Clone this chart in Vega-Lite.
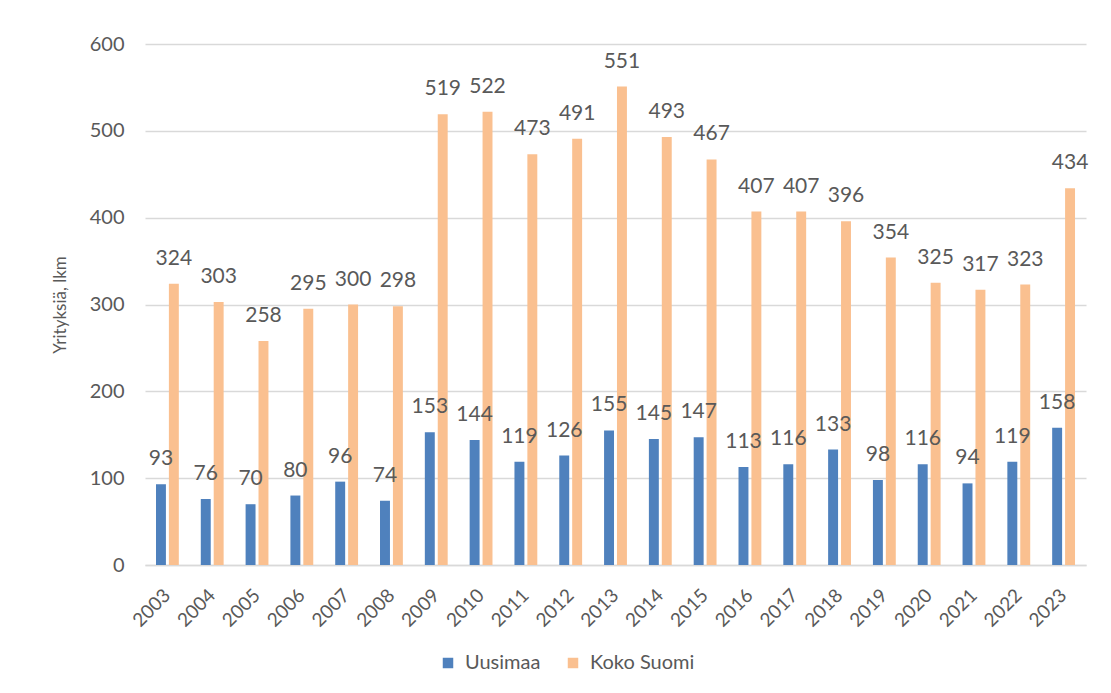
{
  "$schema": "https://vega.github.io/schema/vega-lite/v6.json",
  "width": 941,
  "height": 521,
  "autosize": {"type": "none"},
  "padding": {"left": 145, "top": 44, "right": 25, "bottom": 128},
  "background": "white",
  "config": {
    "font": "Lato",
    "view": {"stroke": null},
    "axis": {"labelColor": "#595959", "titleColor": "#595959", "labelFont": "Lato", "titleFont": "Lato"}
  },
  "data": {
    "values": [
      {"year": "2003", "series": "Uusimaa", "value": 93},
      {"year": "2004", "series": "Uusimaa", "value": 76},
      {"year": "2005", "series": "Uusimaa", "value": 70},
      {"year": "2006", "series": "Uusimaa", "value": 80},
      {"year": "2007", "series": "Uusimaa", "value": 96},
      {"year": "2008", "series": "Uusimaa", "value": 74},
      {"year": "2009", "series": "Uusimaa", "value": 153},
      {"year": "2010", "series": "Uusimaa", "value": 144},
      {"year": "2011", "series": "Uusimaa", "value": 119},
      {"year": "2012", "series": "Uusimaa", "value": 126},
      {"year": "2013", "series": "Uusimaa", "value": 155},
      {"year": "2014", "series": "Uusimaa", "value": 145},
      {"year": "2015", "series": "Uusimaa", "value": 147},
      {"year": "2016", "series": "Uusimaa", "value": 113},
      {"year": "2017", "series": "Uusimaa", "value": 116},
      {"year": "2018", "series": "Uusimaa", "value": 133},
      {"year": "2019", "series": "Uusimaa", "value": 98},
      {"year": "2020", "series": "Uusimaa", "value": 116},
      {"year": "2021", "series": "Uusimaa", "value": 94},
      {"year": "2022", "series": "Uusimaa", "value": 119},
      {"year": "2023", "series": "Uusimaa", "value": 158},
      {"year": "2003", "series": "Koko Suomi", "value": 324},
      {"year": "2004", "series": "Koko Suomi", "value": 303},
      {"year": "2005", "series": "Koko Suomi", "value": 258},
      {"year": "2006", "series": "Koko Suomi", "value": 295},
      {"year": "2007", "series": "Koko Suomi", "value": 300},
      {"year": "2008", "series": "Koko Suomi", "value": 298},
      {"year": "2009", "series": "Koko Suomi", "value": 519},
      {"year": "2010", "series": "Koko Suomi", "value": 522},
      {"year": "2011", "series": "Koko Suomi", "value": 473},
      {"year": "2012", "series": "Koko Suomi", "value": 491},
      {"year": "2013", "series": "Koko Suomi", "value": 551},
      {"year": "2014", "series": "Koko Suomi", "value": 493},
      {"year": "2015", "series": "Koko Suomi", "value": 467},
      {"year": "2016", "series": "Koko Suomi", "value": 407},
      {"year": "2017", "series": "Koko Suomi", "value": 407},
      {"year": "2018", "series": "Koko Suomi", "value": 396},
      {"year": "2019", "series": "Koko Suomi", "value": 354},
      {"year": "2020", "series": "Koko Suomi", "value": 325},
      {"year": "2021", "series": "Koko Suomi", "value": 317},
      {"year": "2022", "series": "Koko Suomi", "value": 323},
      {"year": "2023", "series": "Koko Suomi", "value": 434}
    ]
  },
  "encoding": {
    "x": {
      "field": "year", "type": "nominal", "sort": null,
      "scale": {"paddingInner": 0.49, "paddingOuter": 0.245},
      "axis": {
        "title": null, "labelAngle": -45, "labelAlign": "right", "labelBaseline": "middle",
        "labelFontSize": 19, "labelPadding": 27, "ticks": false,
        "domainColor": "#d9d9d9", "domainWidth": 1.5
      }
    },
    "xOffset": {
      "field": "series", "type": "nominal", "sort": ["Uusimaa", "Koko Suomi"],
      "scale": {"paddingInner": 0.23, "paddingOuter": 0}
    },
    "y": {
      "field": "value", "type": "quantitative",
      "scale": {"domain": [0, 600], "nice": false},
      "axis": {
        "title": "Yrityksiä, lkm", "titleFontSize": 17, "titleFontWeight": "normal", "titlePadding": 20,
        "values": [0, 100, 200, 300, 400, 500, 600],
        "labelFontSize": 20, "labelPadding": 21, "ticks": false, "domain": false,
        "gridColor": "#d9d9d9", "gridWidth": 1.5
      }
    },
    "color": {
      "field": "series", "type": "nominal", "sort": ["Uusimaa", "Koko Suomi"],
      "scale": {"domain": ["Uusimaa", "Koko Suomi"], "range": ["#4F81BD", "#FAC090"]},
      "legend": {
        "title": null, "orient": "none", "direction": "horizontal",
        "legendX": 293, "legendY": 609, "symbolType": "square", "symbolSize": 110,
        "symbolStrokeWidth": 0, "labelFontSize": 20, "labelColor": "#595959", "labelFont": "Lato",
        "columnPadding": 22, "labelOffset": 7
      }
    }
  },
  "layer": [
    {"mark": {"type": "bar"}},
    {
      "mark": {"type": "text", "baseline": "bottom", "dy": -15, "fontSize": 21, "color": "#595959", "font": "Lato"},
      "encoding": {"text": {"field": "value", "type": "quantitative"}, "color": {"value": "#595959"}}
    }
  ]
}
